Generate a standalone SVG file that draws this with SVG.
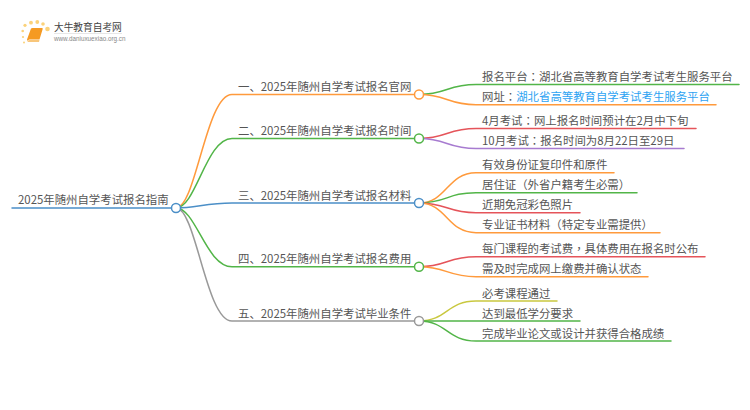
<svg xmlns="http://www.w3.org/2000/svg" width="750" height="410" viewBox="0 0 750 410">
<style>
text{font-family:"Noto Sans CJK SC","Noto Sans",sans-serif;font-size:11.4px;fill:#555}
.p{font-family:"Noto Sans CJK TC","Noto Sans",sans-serif}
.c path{fill:none;stroke-width:1.5;stroke-linecap:round}
.n{fill:#fff;stroke-width:1.5}
</style>
<rect width="750" height="410" fill="#fff"/>
<g id="logo">
<g fill="#fbd27a"><circle cx="47.500" cy="29" r="2.300"/><circle cx="31" cy="22.700" r="1.900"/><circle cx="37.300" cy="22" r="1.900"/><circle cx="25" cy="25.300" r="1.600"/><circle cx="43" cy="24" r="1.800"/><circle cx="22.700" cy="31" r="1.300"/><circle cx="23" cy="37" r="1.100"/><circle cx="24" cy="42.500" r="1"/></g>
<path d="M31 28.500Q31.500 28 32.500 28H42Q43 28 42.700 29L39.500 39.500H29.500Q28 39.500 27.500 41L27 39.500Z" fill="#f59a23"/>
<path d="M27.500 41.500Q27.500 40 29.500 40H39.500L39 42H29Q27.500 42 27.500 41.500Z" fill="#f8c67a"/>
<text x="54" y="31" style="font-size:9.700px;fill:#444">大牛教育自考网</text>
<path d="M54 33.500H122" stroke="#ddd" stroke-width=".7"/>
<text x="54" y="41" style="font-family:'Liberation Sans',sans-serif;font-size:6.300px;fill:#888">www.daniuxuexiao.org.cn</text>
</g>
<g class="c" id="connectors">
<path stroke="#4b8fc7" stroke-width="2" d="M12 208H176"/>
<path stroke="#ff9a3c" d="M176 208C196 208 206 94.500 232 94.500H419"/>
<path stroke="#52b548" d="M176 208C196 208 206 138.500 232 138.500H419"/>
<path stroke="#4b8fc7" d="M176 208C196 208 206 203 232 203H419"/>
<path stroke="#52b548" d="M176 208C196 208 206 266.700 232 266.700H419"/>
<path stroke="#999" d="M176 208C196 208 206 321 232 321H419"/>
<path stroke="#52b548" d="M419 94.500C447 94.500 447 84.500 476 84.500H739"/>
<path stroke="#ff9a3c" d="M419 94.500C447 94.500 447 104.700 476 104.700H716"/>
<path stroke="#e5545a" d="M419 138.500C447 138.500 447 128.500 476 128.500H696"/>
<path stroke="#a77bd0" d="M419 138.500C447 138.500 447 148.500 476 148.500H684"/>
<path stroke="#ff9a3c" d="M419 203C447 203 447 172.700 476 172.700H614"/>
<path stroke="#52b548" d="M419 203C447 203 447 192.700 476 192.700H637"/>
<path stroke="#e5545a" d="M419 203C447 203 447 212.700 476 212.700H580"/>
<path stroke="#ff9a3c" d="M419 203C447 203 447 232.700 476 232.700H660"/>
<path stroke="#e5545a" d="M419 266.700C447 266.700 447 256.700 476 256.700H705"/>
<path stroke="#ff9a3c" d="M419 266.700C447 266.700 447 276.700 476 276.700H648"/>
<path stroke="#c9c83f" d="M419 321C447 321 447 301 476 301H557"/>
<path stroke="#52b548" d="M419 321C447 321 447 321 476 321H580"/>
<path stroke="#52b548" d="M419 321C447 321 447 341 476 341H671"/>
</g>
<g id="root"><text x="18" y="204">2025年随州自学考试报名指南</text><circle class="n" cx="176" cy="208" r="4.500" stroke="#4b8fc7"/></g>
<g id="b1"><text x="238" y="91">一、2025年随州自学考试报名官网</text><circle class="n" cx="419" cy="94.500" r="4.500" stroke="#ff9a3c"/></g>
<g id="b2"><text x="238" y="135">二、2025年随州自学考试报名时间</text><circle class="n" cx="419" cy="138.500" r="4.500" stroke="#52b548"/></g>
<g id="b3"><text x="238" y="199.500">三、2025年随州自学考试报名材料</text><circle class="n" cx="419" cy="203" r="4.500" stroke="#4b8fc7"/></g>
<g id="b4"><text x="238" y="263">四、2025年随州自学考试报名费用</text><circle class="n" cx="419" cy="266.700" r="4.500" stroke="#52b548"/></g>
<g id="b5"><text x="238" y="317.500">五、2025年随州自学考试毕业条件</text><circle class="n" cx="419" cy="321" r="4.500" stroke="#999"/></g>
<g id="l1a"><text x="482" y="81">报名平台<tspan class="p">：</tspan>湖北省高等教育自学考试考生服务平台</text></g>
<g id="l1b"><text x="482" y="101">网址<tspan class="p">：</tspan><tspan fill="#2ea3f2">湖北省高等教育自学考试考生服务平台</tspan></text></g>
<g id="l2a"><text x="482" y="125">4月考试<tspan class="p">：</tspan>网上报名时间预计在2月中下旬</text></g>
<g id="l2b"><text x="482" y="145">10月考试<tspan class="p">：</tspan>报名时间为8月22日至29日</text></g>
<g id="l3a"><text x="482" y="169">有效身份证复印件和原件</text></g>
<g id="l3b"><text x="482" y="189">居住证<tspan class="p">（</tspan>外省户籍考生必需<tspan class="p">）</tspan></text></g>
<g id="l3c"><text x="482" y="209">近期免冠彩色照片</text></g>
<g id="l3d"><text x="482" y="229">专业证书材料<tspan class="p">（</tspan>特定专业需提供<tspan class="p">）</tspan></text></g>
<g id="l4a"><text x="482" y="253">每门课程的考试费<tspan class="p">，</tspan>具体费用在报名时公布</text></g>
<g id="l4b"><text x="482" y="273">需及时完成网上缴费并确认状态</text></g>
<g id="l5a"><text x="482" y="297.500">必考课程通过</text></g>
<g id="l5b"><text x="482" y="317.500">达到最低学分要求</text></g>
<g id="l5c"><text x="482" y="337.500">完成毕业论文或设计并获得合格成绩</text></g>
</svg>
